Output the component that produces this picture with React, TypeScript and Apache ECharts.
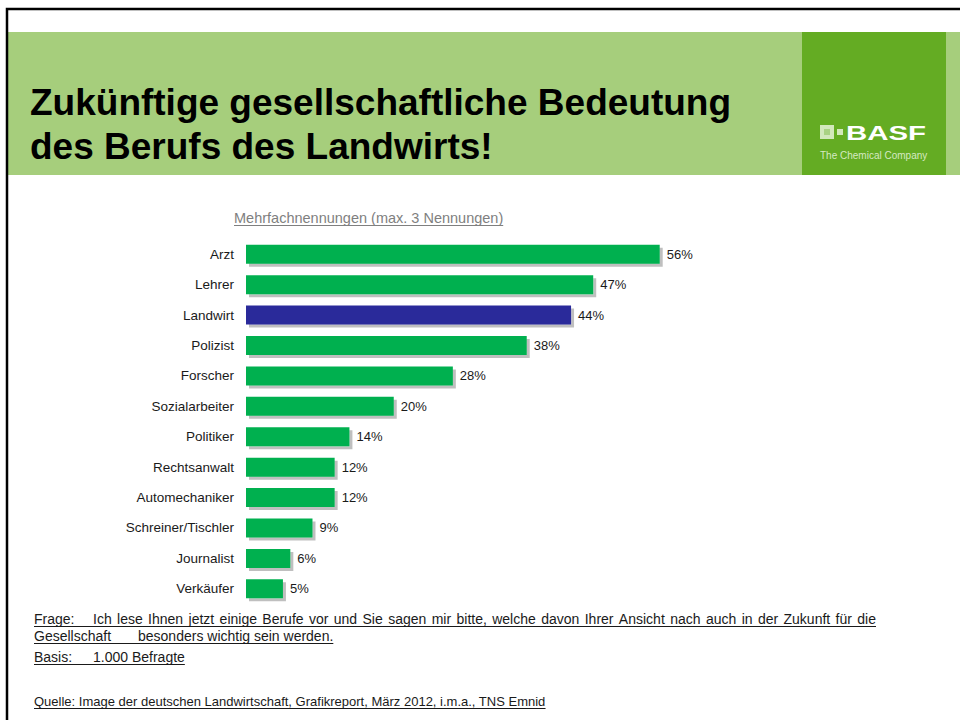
import React, { useEffect, useRef } from "react";
import * as echarts from "echarts";

const categories = [
  "Arzt",
  "Lehrer",
  "Landwirt",
  "Polizist",
  "Forscher",
  "Sozialarbeiter",
  "Politiker",
  "Rechtsanwalt",
  "Automechaniker",
  "Schreiner/Tischler",
  "Journalist",
  "Verkäufer",
];
const values = [56, 47, 44, 38, 28, 20, 14, 12, 12, 9, 6, 5];
const highlighted = "Landwirt";

const titleLines = [
  "Zukünftige gesellschaftliche Bedeutung",
  "des Berufs des Landwirts!",
];
const subtitle = "Mehrfachnennungen (max. 3 Nennungen)";
const footerRows = [
  {
    head: "Frage:",
    body: "Ich lese Ihnen jetzt einige Berufe vor und Sie sagen mir bitte, welche davon Ihrer Ansicht nach auch in der Zukunft für die",
    bodyX: 93,
    justifyTo: 876,
    size: 14,
    y: 619,
  },
  { head: "Gesellschaft", body: "besonders wichtig sein werden.", bodyX: 138, justifyTo: 0, size: 14, y: 636 },
  { head: "Basis:", body: "1.000 Befragte", bodyX: 93, justifyTo: 0, size: 14, y: 657 },
  {
    head: "Quelle: Image der deutschen Landwirtschaft, Grafikreport, März 2012, i.m.a., TNS Emnid",
    body: "",
    bodyX: 0,
    justifyTo: 0,
    size: 13,
    y: 701,
  },
];

const FONT = "'Liberation Sans', Arial, Helvetica, sans-serif";
const GREEN = "#00b050";
const BLUE = "#2a2a9a";

function measure(text: string, size: number, weight = "normal") {
  const c = document.createElement("canvas").getContext("2d");
  if (!c) return text.length * size * 0.5;
  c.font = `${weight} ${size}px ${FONT}`;
  return c.measureText(text).width;
}

export default function App() {
  const ref = useRef<HTMLDivElement>(null);

  useEffect(() => {
    if (!ref.current) return;
    const chart = echarts.init(ref.current, undefined, { renderer: "svg" });

    const graphic: any[] = [];
    // header band
    graphic.push({
      type: "rect",
      z: 0,
      shape: { x: 8, y: 32, width: 960, height: 143 },
      style: { fill: "#a6ce7c" },
    });
    graphic.push({
      type: "rect",
      z: 1,
      shape: { x: 802, y: 32, width: 144, height: 143 },
      style: { fill: "#64ac23" },
    });
    // page border
    graphic.push({
      type: "rect",
      z: 2,
      shape: { x: 7, y: 9, width: 1200, height: 1200 },
      style: { fill: "none", stroke: "#000", lineWidth: 2.5 },
    });
    // logo
    graphic.push({
      type: "rect",
      z: 3,
      shape: { x: 820, y: 125, width: 14, height: 14 },
      style: { fill: "#d2e8bc" },
    });
    graphic.push({
      type: "rect",
      z: 4,
      shape: { x: 824, y: 129, width: 6, height: 6 },
      style: { fill: "#a9d283" },
    });
    graphic.push({
      type: "rect",
      z: 3,
      shape: { x: 837, y: 129, width: 6, height: 6 },
      style: { fill: "#d2e8bc" },
    });
    graphic.push({
      type: "text",
      z: 3,
      x: 846,
      y: 132.5,
      scaleX: 1.4,
      style: {
        text: "BASF",
        fill: "#ffffff",
        font: `bold 21px ${FONT}`,
        verticalAlign: "middle",
      },
    });
    graphic.push({
      type: "text",
      z: 3,
      x: 820,
      y: 155,
      style: {
        text: "The Chemical Company",
        fill: "#d5e9c2",
        font: `10px ${FONT}`,
        verticalAlign: "middle",
      },
    });
    // title
    titleLines.forEach((t, i) => {
      graphic.push({
        type: "text",
        z: 3,
        x: 30,
        y: 102 + i * 44,
        style: {
          text: t,
          fill: "#000",
          font: `bold 37px ${FONT}`,
          verticalAlign: "middle",
        },
      });
    });
    // subtitle
    const subSize = 14.5;
    graphic.push({
      type: "text",
      z: 3,
      x: 234,
      y: 218,
      style: {
        text: subtitle,
        fill: "#7f7f7f",
        font: `${subSize}px ${FONT}`,
        verticalAlign: "middle",
      },
    });
    graphic.push({
      type: "line",
      z: 3,
      shape: { x1: 234, y1: 225.5, x2: 234 + measure(subtitle, subSize), y2: 225.5 },
      style: { stroke: "#7f7f7f", lineWidth: 1 },
    });
    // footer
    footerRows.forEach((r) => {
      const fs = r.size;
      const fnt = `${fs}px ${FONT}`;
      graphic.push({
        type: "text",
        z: 3,
        x: 34,
        y: r.y,
        style: { text: r.head, fill: "#1a1a1a", font: fnt, verticalAlign: "middle" },
      });
      let end = 34 + measure(r.head, fs);
      if (r.body && r.justifyTo) {
        // justified line: spread words to the target right edge
        const words = r.body.split(" ");
        const widths = words.map((w) => measure(w, fs));
        const total = widths.reduce((a, b) => a + b, 0);
        const gap = (r.justifyTo - r.bodyX - total) / (words.length - 1);
        let x = r.bodyX;
        words.forEach((w, i) => {
          graphic.push({
            type: "text",
            z: 3,
            x,
            y: r.y,
            style: { text: w, fill: "#1a1a1a", font: fnt, verticalAlign: "middle" },
          });
          x += widths[i] + gap;
        });
        end = r.justifyTo;
      } else if (r.body) {
        graphic.push({
          type: "text",
          z: 3,
          x: r.bodyX,
          y: r.y,
          style: { text: r.body, fill: "#1a1a1a", font: fnt, verticalAlign: "middle" },
        });
        end = r.bodyX + measure(r.body, fs);
      }
      graphic.push({
        type: "line",
        z: 3,
        shape: { x1: 34, y1: r.y + 7.5, x2: end, y2: r.y + 7.5 },
        style: { stroke: "#1a1a1a", lineWidth: 1 },
      });
    });

    const option: any = {
      animation: false,
      backgroundColor: "#ffffff",
      graphic,
      grid: { left: 246, top: 239, width: 591, height: 365, containLabel: false },
      xAxis: {
        type: "value",
        min: 0,
        max: 80,
        show: false,
        splitLine: { show: false },
      },
      yAxis: {
        type: "category",
        data: categories,
        inverse: true,
        axisLine: { show: false },
        axisTick: { show: false },
        axisLabel: {
          margin: 12,
          fontSize: 13.5,
          fontFamily: FONT,
          color: "#1a1a1a",
        },
      },
      series: [
        {
          type: "bar",
          data: values.map((v, i) => ({
            value: v,
            itemStyle: { color: categories[i] === highlighted ? BLUE : GREEN },
          })),
          barWidth: 19,
          itemStyle: {
            shadowColor: "rgba(0,0,0,0.25)",
            shadowOffsetX: 3,
            shadowOffsetY: 3,
            shadowBlur: 1.5,
          },
          label: {
            show: true,
            position: "right",
            distance: 7,
            formatter: "{c}%",
            fontSize: 13,
            fontFamily: FONT,
            color: "#1a1a1a",
          },
        },
      ],
    };
    chart.setOption(option);
    return () => chart.dispose();
  }, []);

  return (
    <div
      ref={ref}
      style={{ position: "absolute", left: 0, top: 0, width: 960, height: 720 }}
    />
  );
}
